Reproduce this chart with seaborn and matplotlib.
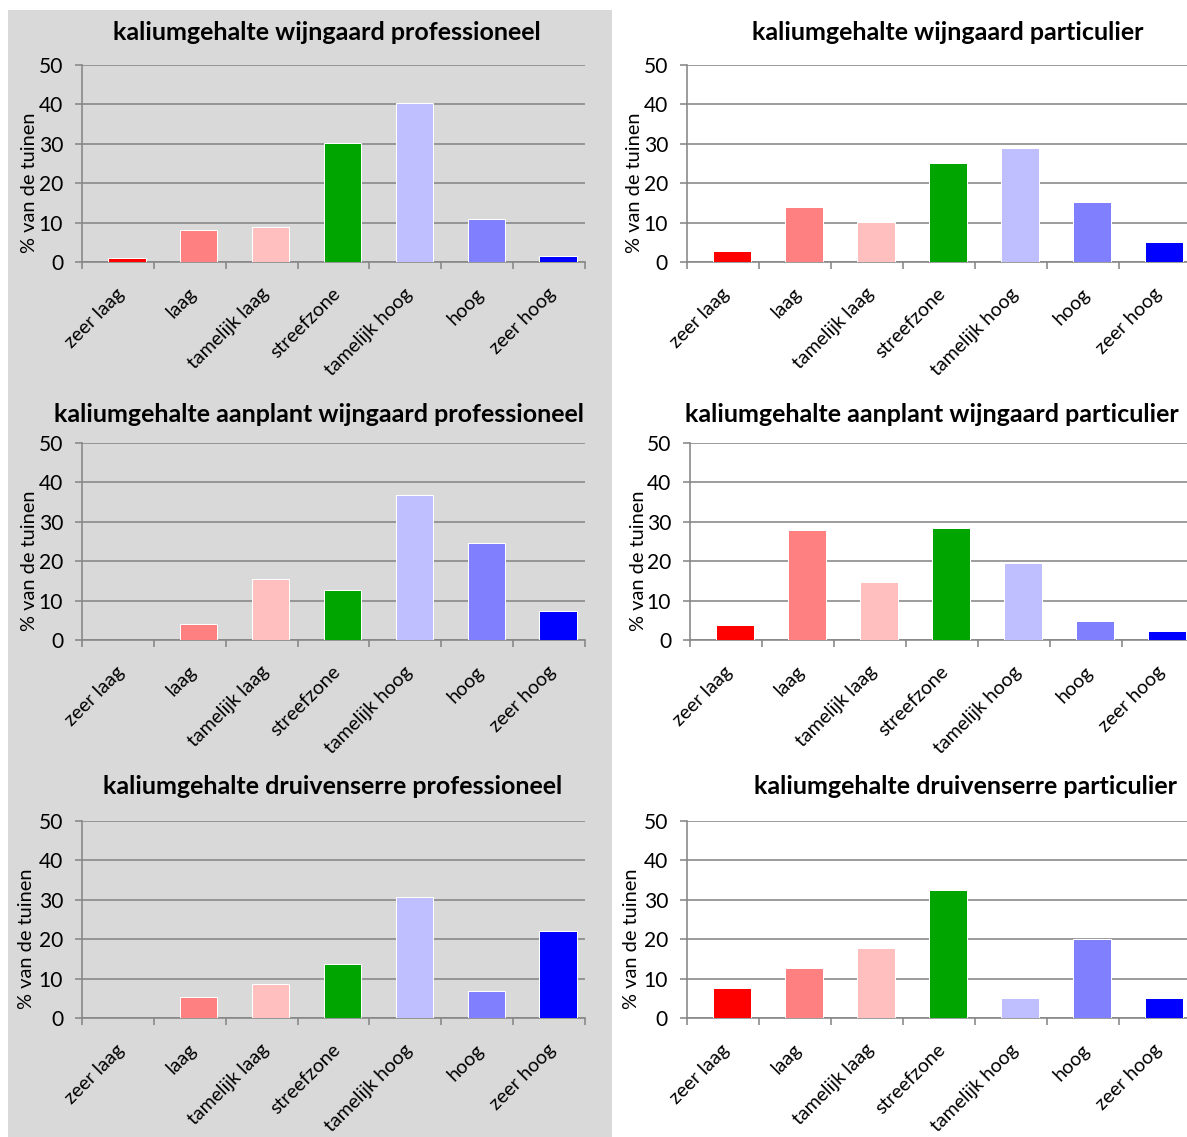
import matplotlib
matplotlib.use("Agg")
import matplotlib.pyplot as plt
import matplotlib.transforms as mtransforms
from matplotlib.patches import Rectangle
from matplotlib.ticker import FixedLocator
import seaborn as sns
import pandas as pd

# Klassen van het kaliumgehalte en hun kleuren
categories = ["zeer laag", "laag", "tamelijk laag", "streefzone",
              "tamelijk hoog", "hoog", "zeer hoog"]
class_colors = ["#ff0000", "#ff8080", "#ffbfbf", "#00a500",
                "#bfbfff", "#8080ff", "#0000ff"]

# Percentage van de tuinen per klasse
wijngaard_prof = [1.0, 8.1, 8.8, 30.3, 40.4, 10.9, 1.4]
wijngaard_part = [2.7, 13.9, 10.2, 25.1, 29.0, 15.2, 5.2]
aanplant_prof = [0.0, 4.0, 15.4, 12.8, 36.7, 24.6, 7.4]
aanplant_part = [3.8, 27.8, 14.7, 28.3, 19.5, 4.9, 2.4]
serre_prof = [0.0, 5.3, 8.6, 13.7, 30.7, 6.9, 22.2]
serre_part = [7.6, 12.6, 17.7, 32.6, 5.2, 20.1, 5.2]

titles = [
    "kaliumgehalte wijngaard professioneel",
    "kaliumgehalte wijngaard particulier",
    "kaliumgehalte aanplant wijngaard professioneel",
    "kaliumgehalte aanplant wijngaard particulier",
    "kaliumgehalte druivenserre professioneel",
    "kaliumgehalte druivenserre particulier",
]
series = [wijngaard_prof, wijngaard_part, aanplant_prof,
          aanplant_part, serre_prof, serre_part]

y_label = "% van de tuinen"
y_ticks = [0, 10, 20, 30, 40, 50]

W, H = 1187, 1137
DPI = 72
sns.set_theme(style="white")
plt.rcParams["font.family"] = ["Lato", "DejaVu Sans"]

fig = plt.figure(figsize=(W / DPI, H / DPI), dpi=DPI)
fig.patch.set_facecolor("white")

# grijze achtergrond van de linkerkolom
fig.patches.append(Rectangle((8 / W, 0), (612 - 8) / W, 1 - 10 / H,
                             transform=fig.transFigure, facecolor="#d9d9d9",
                             edgecolor="none", zorder=-5))

# (links, boven, rechts, onder) van het plotgebied in pixels, titelpositie, y-labelpositie
layout = [
    (82, 65, 585, 262, 327, 33, 38),
    (687, 65, 1191, 262, 948, 33, 643),
    (82, 443, 585, 640, 319, 415, 38),
    (690, 443, 1194, 640, 932, 415, 647),
    (82, 821, 585, 1018, 333, 787, 35),
    (687, 821, 1191, 1018, 965, 787, 640),
]

grid_color = "#868686"
n = len(categories)
# klassegrenzen liggen iets rechts van het midden tussen de staven
shift = 0.375

for values, title, (l, t, r, b, tx, ty, lx) in zip(series, titles, layout):
    ax = fig.add_axes([l / W, 1 - b / H, (r - l) / W, (b - t) / H])
    ax.set_zorder(1)
    ax.set_facecolor("none")
    df = pd.DataFrame({"klasse": categories, "pct": values})
    sns.barplot(data=df, x="klasse", y="pct", hue="klasse",
                palette=class_colors, order=categories, hue_order=categories,
                width=0.52, legend=False, saturation=1, ax=ax, zorder=3)
    ax.set_xlim(-1 + shift, n - 1 + shift)
    ax.set_ylim(0, 50)
    ax.set_yticks(y_ticks)
    ax.yaxis.grid(True, color=grid_color, linewidth=1.6, zorder=0)
    ax.xaxis.grid(False)
    ax.set_axisbelow(True)
    for side in ("top", "right"):
        ax.spines[side].set_visible(False)
    for side in ("left", "bottom"):
        ax.spines[side].set_color(grid_color)
        ax.spines[side].set_linewidth(1.6)
    ax.tick_params(axis="y", left=True, length=7, width=1.6, color=grid_color,
                   labelsize=21, pad=12, labelcolor="black")
    ax.set_xticks(range(n))
    ax.set_xticklabels(categories)
    ax.xaxis.set_minor_locator(FixedLocator([i + shift for i in range(-1, n)]))
    ax.tick_params(axis="x", which="minor", bottom=True, length=7, width=1.6,
                   color=grid_color)
    ax.tick_params(axis="x", which="major", bottom=False, length=0, pad=29,
                   labelsize=19.5, labelcolor="black")
    offset = mtransforms.ScaledTranslation(-5 / DPI, 0, fig.dpi_scale_trans)
    for lab in ax.get_xticklabels():
        lab.set_rotation(45)
        lab.set_rotation_mode("anchor")
        lab.set_ha("right")
        lab.set_va("center")
        lab.set_transform(lab.get_transform() + offset)
    ax.set_xlabel("")
    ax.set_ylabel(y_label, fontsize=20, color="black")
    ax.yaxis.set_label_coords((lx - l) / (r - l), 0.40)
    fig.text(tx / W, 1 - ty / H, title, ha="center", va="center",
             fontsize=25, fontweight="bold", color="black")

fig.savefig("out.png", dpi=DPI, facecolor=fig.get_facecolor())
